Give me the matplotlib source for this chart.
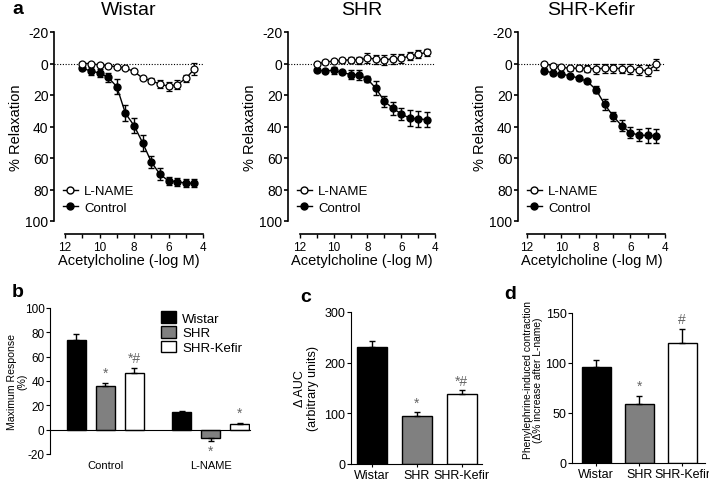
import numpy as np
import matplotlib
matplotlib.use("Agg")
import matplotlib.pyplot as plt
from matplotlib.lines import Line2D
from matplotlib.patches import Patch
import matplotlib.transforms as mtransforms

plt.rcParams['font.family'] = ['Liberation Sans', 'DejaVu Sans']
plt.rcParams['axes.unicode_minus'] = False

W, H = 709, 481

# --- panel a data: concentration-response (% relaxation) ---
conc = [11, 10.5, 10, 9.5, 9, 8.5, 8, 7.5, 7, 6.5, 6, 5.5, 5, 4.5]

wistar_ctrl = [3, 4.8, 6, 8.8, 14.7, 31.6, 39.4, 50.3, 62.5, 70.3, 74.5, 75, 76, 76]
wistar_ctrl_err = [1, 2.5, 2.5, 3, 4.7, 5, 5, 5, 4, 3.7, 2.6, 2.5, 2.5, 2.5]
wistar_lname = [0, 0, 1, 1.5, 2, 3, 5, 9.3, 11, 13, 14.5, 13.5, 9.5, 3.5]
wistar_lname_err = [0.5, 0.5, 0.5, 0.5, 0.5, 0.5, 0.8, 1, 1.5, 2.5, 3, 3, 2, 4]

shr_ctrl = [4.4, 4.6, 4.4, 5.7, 7, 7.2, 9.9, 15.8, 24, 28.4, 32, 34.7, 35.2, 35.6]
shr_ctrl_err = [1, 1, 2, 1.2, 3, 3, 2, 4.5, 3.5, 4, 4, 5, 5, 5]
shr_lname = [0.4, -1, -1.5, -2, -2.3, -2, -3.6, -2.7, -2.3, -3, -3.2, -4.8, -5.9, -7]
shr_lname_err = [1, 1, 1, 1.5, 2, 2, 3, 3, 3, 3, 3, 2.5, 2.5, 2.5]

kefir_ctrl = [4.6, 6, 6.7, 7.8, 9.3, 11.4, 16.6, 25.9, 33.5, 39.6, 44, 45.5, 45.7, 46]
kefir_ctrl_err = [1.5, 1, 1, 1, 1, 1, 2, 3.5, 3, 3.5, 3.5, 4, 4.5, 4.5]
kefir_lname = [0, 1.5, 2.5, 3, 3, 3.2, 3.4, 3, 3, 3.2, 3.6, 4, 4.6, 0.6]
kefir_lname_err = [0.5, 1, 1, 1.5, 2, 2, 3, 3, 3, 3, 3, 3, 3.5, 3.5]

# --- panel b data: maximum response (%) ---
groups_b = ['Control', 'L-NAME']
strains = ['Wistar', 'SHR', 'SHR-Kefir']
maxresp = {'Wistar': [74, 14.5], 'SHR': [35.5, -7], 'SHR-Kefir': [46.5, 4.5]}
maxresp_err = {'Wistar': [5, 1], 'SHR': [3, 2], 'SHR-Kefir': [4, 1]}
marks_b = {'Wistar': ['', ''], 'SHR': ['*', '*'], 'SHR-Kefir': ['*#', '*']}

# --- panel c data: delta AUC ---
auc = [231, 94, 138]
auc_err = [12, 9, 8]
marks_c = ['', '*', '*#']

# --- panel d data: phenylephrine contraction ---
phe = [96.5, 59, 120]
phe_err = [7, 8.5, 14]
marks_d = ['', '*', '#']

colors = ['black', '#808080', 'white']
star_color = '#666666'


def rect(l, t, r, b):
    return [l / W, 1 - b / H, (r - l) / W, (b - t) / H]


fig = plt.figure(figsize=(W / 100, H / 100), dpi=100)

curve_panels = [
    ('Wistar', rect(54, 33, 203, 222), 12.64, wistar_lname, wistar_lname_err, wistar_ctrl, wistar_ctrl_err),
    ('SHR', rect(288, 33, 435, 222), 12.71, shr_lname, shr_lname_err, shr_ctrl, shr_ctrl_err),
    ('SHR-Kefir', rect(518, 33, 665, 222), 12.52, kefir_lname, kefir_lname_err, kefir_ctrl, kefir_ctrl_err),
]

for title, r, xleft, ln, lne, ct, cte in curve_panels:
    ax = fig.add_axes(r)
    ax.set_xlim(xleft, 4)
    ax.set_ylim(100, -20)
    ax.axhline(0, color='black', ls=(0, (1, 1.5)), lw=0.8)
    ax.errorbar(conc, ct, yerr=cte, color='black', marker='o', ms=5, mfc='black',
                lw=1, capsize=2.5, elinewidth=1, capthick=1, zorder=3)
    ax.errorbar(conc, ln, yerr=lne, color='black', marker='o', ms=5, mfc='white',
                mew=0.9, lw=1, capsize=2.5, elinewidth=1, capthick=1, zorder=4)
    for s in ['top', 'right']:
        ax.spines[s].set_visible(False)
    ax.spines['bottom'].set_position(('outward', 9.4))
    ax.spines['bottom'].set_bounds(12, 4)
    ax.spines['left'].set_linewidth(1.2)
    ax.spines['bottom'].set_linewidth(1.2)
    ax.set_xticks([12, 10, 8, 6, 4])
    ax.set_xticks([11, 9, 7, 5], minor=True)
    ax.set_yticks([-20, 0, 20, 40, 60, 80, 100])
    ax.tick_params(axis='y', labelsize=10, length=3, width=1.2, pad=1)
    ax.tick_params(axis='x', which='both', labelsize=8.5, length=3, width=1, pad=2)
    ax.set_ylabel('% Relaxation', fontsize=10.5, labelpad=2)
    ax.set_xlabel('Acetylcholine (-log M)', fontsize=10.5, labelpad=0)
    ax.set_title(title, fontsize=14, pad=13)
    handles = [Line2D([0], [0], color='black', marker='o', mfc='white', ms=5, lw=1),
               Line2D([0], [0], color='black', marker='o', mfc='black', ms=5, lw=1)]
    ax.legend(handles, ['L-NAME', 'Control'], loc='lower left', bbox_to_anchor=(0.0, -0.01),
              frameon=False, fontsize=9.5, handlelength=1.1, handletextpad=0.5,
              labelspacing=0.3, borderaxespad=0.3)

fig.text(12 / W, 1 - 10 / H, 'a', fontsize=14, fontweight='bold', va='center')

# --- panel b ---
axb = fig.add_axes(rect(50, 309, 250, 455))
step = 1.0
gap = 105 / 29
axb.set_xlim(-1.91, 4.98)
axb.set_ylim(-20, 100)
bw = 0.68
for i, s in enumerate(strains):
    xs = np.arange(len(groups_b)) * gap + (i - 1) * step
    vals = maxresp[s]
    errs = maxresp_err[s]
    axb.bar(xs, vals, width=bw, color=colors[i], edgecolor='black', lw=1, label=s, zorder=2)
    for x, v, e, m in zip(xs, vals, errs, marks_b[s]):
        sign = 1 if v >= 0 else -1
        axb.errorbar(x, v, yerr=[[0], [e]] if sign > 0 else [[e], [0]], color='black',
                     capsize=2.5, elinewidth=1, capthick=1, zorder=3)
        if m:
            ypos = v + sign * (e + 2.5)
            axb.text(x, ypos, m, ha='center', va='bottom' if sign > 0 else 'top',
                     fontsize=10, color=star_color)
for s in ['top', 'right']:
    axb.spines[s].set_visible(False)
axb.spines['bottom'].set_position(('data', 0))
axb.set_xticks([])
axb.set_yticks([-20, 0, 20, 40, 60, 80, 100])
axb.tick_params(axis='y', labelsize=8.5, length=3, pad=1)
tr = mtransforms.blended_transform_factory(axb.transData, axb.transAxes)
for g, lab in enumerate(groups_b):
    axb.text(g * gap, -0.04, lab, transform=tr, ha='center', va='top', fontsize=8)
axb.set_ylabel('Maximum Response\n(%)', fontsize=7.6, linespacing=1.05)
axb.yaxis.set_label_coords(-0.115, 0.5)
leg_h = [Patch(facecolor=c, edgecolor='black') for c in colors]
axb.legend(leg_h, strains, loc='upper right', bbox_to_anchor=(1.02, 1.06), frameon=False,
           fontsize=9.5, handlelength=1.1, handleheight=1.0, handletextpad=0.5,
           labelspacing=0.1)
fig.text(12 / W, 1 - 293 / H, 'b', fontsize=14, fontweight='bold', va='center')


def simple_bars(ax, vals, errs, marks, labels, ylim, yticks, ylabel, markgap, ylabsize):
    xs = np.arange(len(vals))
    ax.bar(xs, vals, width=0.67, color=colors, edgecolor='black', lw=1, zorder=2)
    ax.errorbar(xs, vals, yerr=[np.zeros(len(errs)), errs], fmt='none', ecolor='black',
                capsize=2.5, elinewidth=1, capthick=1, zorder=3)
    for x, v, e, m in zip(xs, vals, errs, marks):
        if m:
            ax.text(x, v + e + markgap, m, ha='center', va='bottom', fontsize=10, color=star_color)
    ax.set_ylim(*ylim)
    ax.set_yticks(yticks)
    ax.set_xticks(xs)
    ax.set_xticklabels(labels)
    for s in ['top', 'right']:
        ax.spines[s].set_visible(False)
    ax.tick_params(axis='y', labelsize=9, length=3, pad=1)
    ax.tick_params(axis='x', labelsize=9, length=2.5, pad=1)
    ax.set_ylabel(ylabel, fontsize=ylabsize, labelpad=4, linespacing=1.1)


axc = fig.add_axes(rect(351, 313, 482, 465))
axc.set_xlim(-0.46, 2.45)
simple_bars(axc, auc, auc_err, marks_c, strains, (0, 300), [0, 100, 200, 300],
            '\u0394 AUC\n(arbitrary units)', 4, 9)
fig.text(300 / W, 1 - 298 / H, 'c', fontsize=14, fontweight='bold', va='center')

axd = fig.add_axes(rect(572, 314, 705, 464))
axd.set_xlim(-0.56, 2.53)
simple_bars(axd, phe, phe_err, marks_d, strains, (0, 150), [0, 50, 100, 150],
            'Phenylephrine-induced contraction\n(\u0394% increase after L-name)', 3, 7.4)
axd.yaxis.set_label_coords(-0.215, 0.56)
fig.text(504 / W, 1 - 295 / H, 'd', fontsize=14, fontweight='bold', va='center')

fig.savefig('out.png', dpi=100)
